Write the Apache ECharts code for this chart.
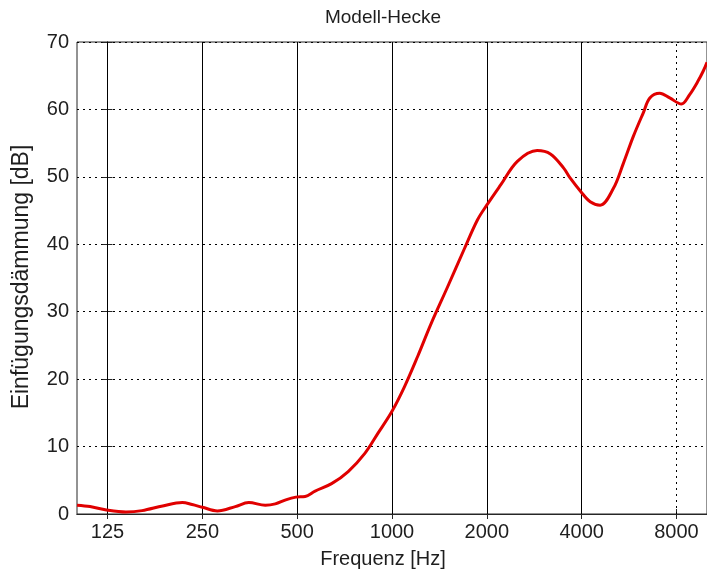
<!DOCTYPE html>
<html>
<head>
<meta charset="utf-8">
<script src="https://cdn.jsdelivr.net/npm/echarts@6/dist/echarts.min.js"></script>
<style>
html,body{margin:0;padding:0;background:#fff;}
#chart{width:707px;height:572px;}
</style>
</head>
<body>
<div id="chart"></div>
<script>
// Frequency (Hz) and insertion loss (dB)
var freqHz = [100, 110, 124, 143, 161, 187, 216, 232, 250, 279, 318, 351, 396, 426, 460, 495, 530, 570, 643, 726, 820, 903, 999, 1096, 1207, 1330, 1502, 1696, 1867, 1999, 2213, 2500, 2889, 3183, 3508, 3681, 3978, 4257, 4579, 5046, 5426, 5836, 6277, 6585, 7081, 7616, 8294, 8809, 9363, 9730, 10000];
var lossDb = [1.3, 1.1, 0.6, 0.3, 0.5, 1.2, 1.7, 1.4, 1.0, 0.45, 1.1, 1.7, 1.3, 1.5, 2.1, 2.5, 2.6, 3.4, 4.5, 6.3, 9.0, 12.0, 15.2, 18.9, 23.4, 28.2, 33.7, 39.3, 43.6, 45.8, 48.8, 52.3, 53.9, 53.4, 51.3, 49.8, 47.8, 46.3, 45.8, 48.3, 52.0, 56.0, 59.5, 61.7, 62.4, 61.7, 60.8, 62.2, 64.2, 65.7, 67.0];
var tickFreqs = [125, 250, 500, 1000, 2000, 4000, 8000];
var tickLabels = ['125', '250', '500', '1000', '2000', '4000', '8000'];
var titleText = 'Modell-Hecke';
var xTitle = 'Frequenz [Hz]';
var yTitle = 'Einfügungsdämmung [dB]';
var fMin = 100, fMax = 10000, fRef = 125;

function oct(f) { return Math.log(f / fRef) / Math.LN2; }

var seriesData = freqHz.map(function (f, i) { return [oct(f), lossDb[i]]; });
var tickPos = tickFreqs.map(oct);
var labelMap = {};
tickPos.forEach(function (p, i) { labelMap[Math.round(p * 1000)] = tickLabels[i]; });

var FONT = 'Liberation Sans, Arial, sans-serif';
var TXT = '#1e1e1e';
var AX = '#262626';

var chart = echarts.init(document.getElementById('chart'), null, {renderer: 'canvas'});

var markData = tickPos.map(function (p, i) {
  var isLast = i === tickPos.length - 1;
  return {
    xAxis: p,
    lineStyle: isLast ? {color: '#000', width: 1, type: [2, 4]} : {color: '#000', width: 1, type: 'solid'}
  };
});

var option = {
  animation: false,
  backgroundColor: '#fff',
  grid: {left: 77, right: -3, top: 42, bottom: 58, show: true, borderColor: AX, borderWidth: 1, backgroundColor: 'transparent'},
  xAxis: [{
    type: 'value',
    min: oct(fMin), max: oct(fMax),
    position: 'bottom',
    axisLine: {show: true, lineStyle: {color: AX, width: 1}},
    axisTick: {show: true, inside: true, length: 5, customValues: tickPos, lineStyle: {color: AX}},
    axisLabel: {
      customValues: tickPos, color: TXT, fontFamily: FONT, fontSize: 20, margin: 8,
      formatter: function (v) { return labelMap[Math.round(v * 1000)] || ''; }
    },
    splitLine: {show: false}
  }, {
    type: 'value',
    min: oct(fMin), max: oct(fMax),
    position: 'top',
    axisLine: {show: true, lineStyle: {color: AX, width: 1}},
    axisTick: {show: true, inside: true, length: 5, customValues: tickPos, lineStyle: {color: AX}},
    axisLabel: {show: false},
    splitLine: {show: false}
  }],
  yAxis: [{
    type: 'value', min: 0, max: 70, interval: 10,
    position: 'left',
    axisLine: {show: true, lineStyle: {color: AX, width: 1}},
    axisTick: {show: true, inside: true, length: 5, lineStyle: {color: AX}},
    axisLabel: {color: TXT, fontFamily: FONT, fontSize: 20, margin: 8},
    splitLine: {show: true, lineStyle: {color: '#000', width: 1, type: [2, 4]}}
  }, {
    type: 'value', min: 0, max: 70, interval: 10,
    position: 'right',
    axisLine: {show: true, lineStyle: {color: AX, width: 1}},
    axisTick: {show: true, inside: true, length: 5, lineStyle: {color: AX}},
    axisLabel: {show: false},
    splitLine: {show: false}
  }],
  graphic: [
    {type: 'text', x: 383, y: 18, style: {text: titleText, fill: TXT, font: '19px ' + FONT, textAlign: 'center', textVerticalAlign: 'middle'}},
    {type: 'text', x: 383, y: 559, style: {text: xTitle, fill: TXT, font: '20px ' + FONT, textAlign: 'center', textVerticalAlign: 'middle'}},
    {type: 'text', x: 22, y: 277, rotation: Math.PI / 2, style: {text: yTitle, fill: TXT, font: '23px ' + FONT, textAlign: 'center', textVerticalAlign: 'middle'}}
  ],
  series: [{
    type: 'line',
    xAxisIndex: 0, yAxisIndex: 0,
    data: seriesData,
    showSymbol: false,
    smooth: 0.35,
    clip: true,
    lineStyle: {color: '#e00000', width: 3},
    z: 3,
    markLine: {
      silent: true,
      symbol: ['none', 'none'],
      label: {show: false},
      data: markData,
      z: 2
    }
  }]
};
chart.setOption(option);
</script>
</body>
</html>
